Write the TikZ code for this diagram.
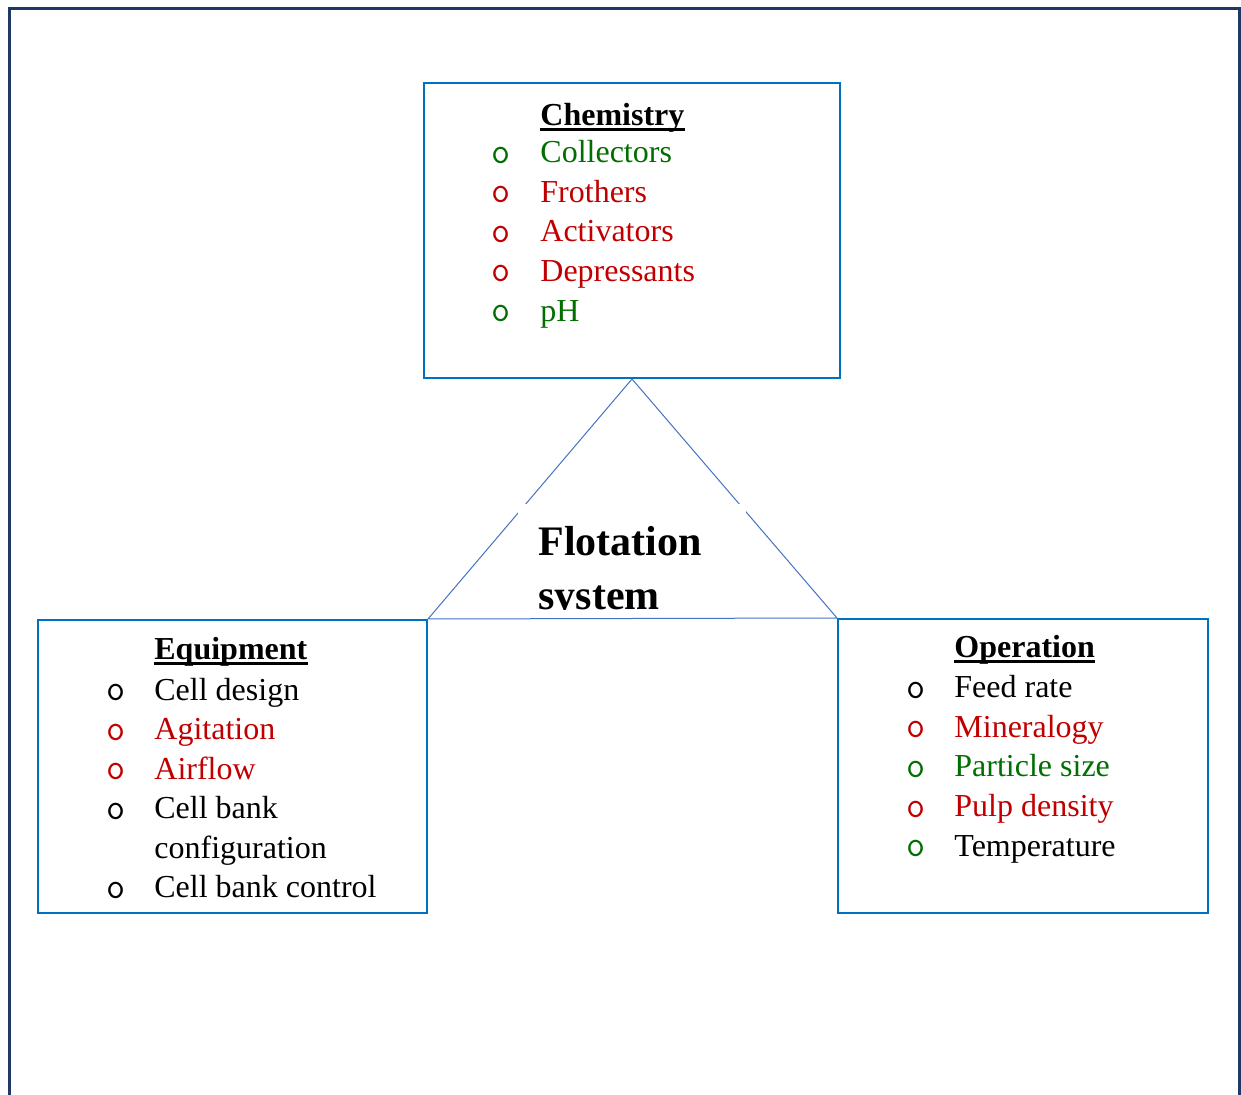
\documentclass[tikz,border=0pt]{standalone}
\usepackage{fontspec}
\setmainfont{Liberation Serif}

\definecolor{boxblue}{HTML}{0070C0}
\definecolor{lineblue}{HTML}{4472C4}
\definecolor{framenavy}{HTML}{1F3864}
\definecolor{itemgreen}{HTML}{006E00}
\definecolor{itemred}{HTML}{C00000}

\begin{document}
\begin{tikzpicture}[x=0.5pt,y=-0.5pt,
    factorbox/.style={draw=boxblue, line width=1pt, inner sep=0pt, anchor=north west},
    heading/.style={anchor=base west, inner sep=0pt, font=\fontsize{16}{19.8}\selectfont\bfseries},
    itemtext/.style={anchor=base west, inner sep=0pt, font=\fontsize{16}{19.8}\selectfont},
    bulletmark/.style={anchor=base, inner sep=0pt, font=\fontsize{18.5}{19.8}\ttfamily},
    ruleline/.style={line width=1.4pt},
    bigtitle/.style={anchor=base west, inner sep=0pt, font=\fontsize{21}{27}\selectfont\bfseries}
]
\useasboundingbox (0,0) rectangle (1241,1095);

% Outer frame (open at the bottom)
\draw[framenavy, line width=1.5pt] (9,1095) -- (9,8.3) -- (1239,8.3) -- (1239,1095);

% Factor boxes
\node[factorbox, minimum width=208pt, minimum height=147.5pt] (chem) at (423,82) {};
\node[factorbox, minimum width=194.5pt, minimum height=146.5pt] (equip) at (37,619) {};
\node[factorbox, minimum width=185pt, minimum height=147pt] (oper) at (837,618) {};

% Chemistry list
\node[heading] (chem-head) at (540,125.5) {Chemistry};
\draw[ruleline] ([yshift=-2pt]chem-head.base west) -- ([yshift=-2pt]chem-head.base east);
\foreach \col/\txt [count=\i from 0] in
    {itemgreen/Collectors, itemred/Frothers, itemred/Activators,
     itemred/Depressants, itemgreen/pH} {
  \node[bulletmark, text=\col] (chem-b\i) at (501,163.2+39.6*\i) {o};
  \node[itemtext, text=\col] (chem-i\i) at (540,162.7+39.6*\i) {\txt};
}

% Equipment list
\node[heading] (equip-head) at (154,659.3) {Equipment};
\draw[ruleline] ([yshift=-2pt]equip-head.base west) -- ([yshift=-2pt]equip-head.base east);
\foreach \r/\col/\txt in
    {0/black/Cell design, 1/itemred/Agitation, 2/itemred/Airflow,
     3/black/Cell bank, 5/black/Cell bank control} {
  \node[bulletmark, text=\col] (equip-b\r) at (115.8,700.8+39.5*\r) {o};
  \node[itemtext, text=\col] (equip-i\r) at (154,700.3+39.5*\r) {\txt};
}
\node[itemtext] (equip-i4) at (154,700.3+39.5*4) {configuration};

% Operation list
\node[heading] (oper-head) at (954,657.7) {Operation};
\draw[ruleline] ([yshift=-2pt]oper-head.base west) -- ([yshift=-2pt]oper-head.base east);
\foreach \bc/\tc/\txt [count=\i from 0] in
    {black/black/Feed rate, itemred/itemred/Mineralogy,
     itemgreen/itemgreen/Particle size, itemred/itemred/Pulp density,
     itemgreen/black/Temperature} {
  \node[bulletmark, text=\bc] (oper-b\i) at (915.8,698.2+39.6*\i) {o};
  \node[itemtext, text=\tc] (oper-i\i) at (954,697.7+39.6*\i) {\txt};
}

% Triangle linking the three boxes
\draw[lineblue, line width=0.5pt] (chem.south) -- (equip.north east) -- (oper.north west) -- cycle;

% Title text box (white fill, text cut at its lower edge)
\fill[white] (518,504) rectangle (746,612);
\begin{scope}
  \clip (518,504) rectangle (746,609.5);
  \node[bigtitle] (title1) at (538,556) {Flotation};
  \node[bigtitle] (title2) at (538,609.5) {system};
\end{scope}

\end{tikzpicture}
\end{document}
